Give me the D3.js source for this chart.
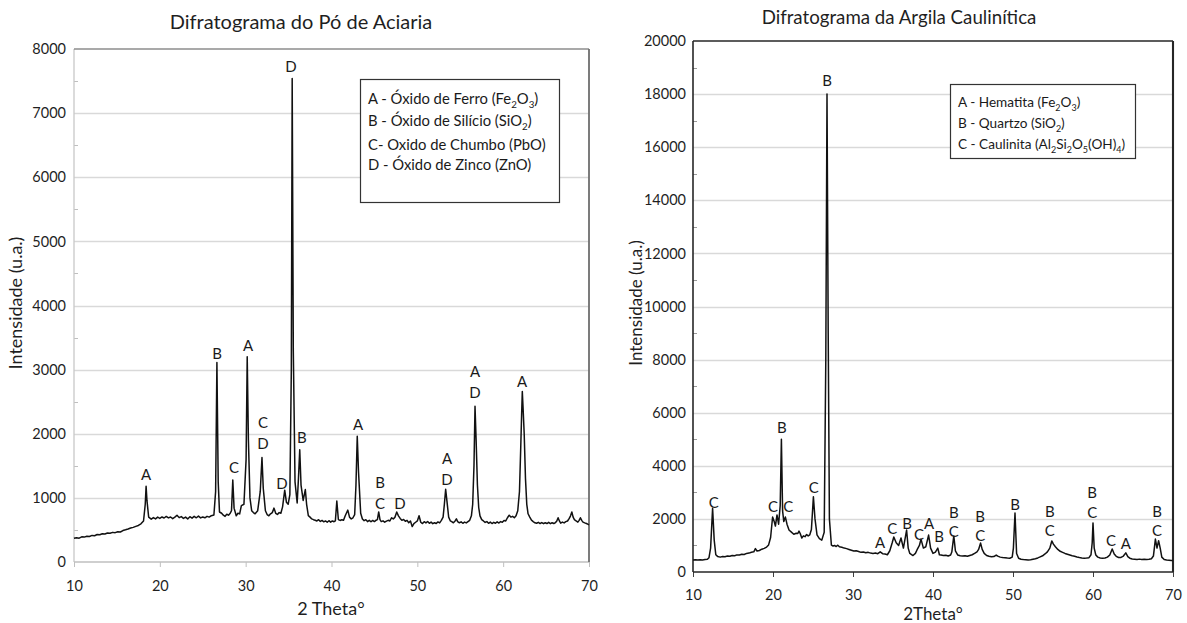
<!DOCTYPE html>
<html><head><meta charset="utf-8">
<script src="https://cdn.jsdelivr.net/npm/d3@7"></script>
<style>
body{margin:0;background:#fff}
text{font-family:Lato,"Open Sans","Liberation Sans",sans-serif}
</style>
</head><body>
<svg id="c" width="1187" height="623"></svg>
<script>
// ---------- Left: Difratograma do Pó de Aciaria  [2θ, intensidade] ----------
const acPattern = [[10,370],[10.3,378],[10.6,372],[10.9,392],[11.2,388],[11.5,402],[11.8,398],[12.1,415],[12.4,410],[12.7,428],[13.0,424],[13.3,440],[13.6,436],[13.9,452],[14.2,448],[14.5,462],[14.8,458],[15.1,472],[15.4,468],[15.7,490],[16.0,502],[16.3,515],[16.6,530],[16.9,540],[17.2,556],[17.5,570],[17.8,595],[18.1,640],[18.3,900],[18.4,1180],[18.5,960],[18.7,700],[19.0,668],[19.25,692],[19.5,672],[19.75,700],[20.0,680],[20.25,702],[20.5,686],[20.75,710],[21.0,688],[21.25,702],[21.5,676],[21.75,700],[22.0,730],[22.25,692],[22.5,708],[22.75,680],[23.0,700],[23.25,672],[23.5,706],[23.75,684],[24.0,712],[24.25,690],[24.5,716],[24.75,688],[25.0,702],[25.25,690],[25.5,712],[25.75,700],[26.0,722],[26.3,732],[26.5,1100],[26.65,3110],[26.8,1250],[26.95,780],[27.2,760],[27.4,730],[27.6,712],[27.8,745],[28.0,730],[28.2,760],[28.35,800],[28.5,1280],[28.65,840],[28.9,722],[29.1,760],[29.3,750],[29.5,880],[29.8,900],[30.05,1600],[30.18,3200],[30.32,1900],[30.5,1000],[30.7,800],[30.9,770],[31.1,752],[31.4,800],[31.7,1100],[31.9,1630],[32.05,1150],[32.3,800],[32.5,740],[32.7,720],[32.9,752],[33.1,770],[33.3,840],[33.5,760],[33.7,742],[33.9,770],[34.1,760],[34.3,860],[34.55,1120],[34.75,930],[34.95,900],[35.15,1050],[35.32,3000],[35.42,7540],[35.55,3300],[35.75,1250],[36.0,920],[36.15,1300],[36.3,1750],[36.45,1200],[36.7,960],[36.95,1130],[37.1,900],[37.3,722],[37.5,700],[37.7,672],[37.9,660],[38.1,652],[38.3,640],[38.5,660],[38.7,632],[38.9,648],[39.1,626],[39.3,640],[39.5,620],[39.7,644],[39.9,622],[40.1,640],[40.3,628],[40.45,640],[40.62,950],[40.8,662],[41.0,648],[41.2,660],[41.4,650],[41.6,722],[41.9,810],[42.1,700],[42.3,672],[42.5,690],[42.7,740],[42.85,1200],[43.0,1960],[43.15,1400],[43.4,760],[43.6,670],[43.8,645],[44.0,660],[44.2,630],[44.4,650],[44.6,628],[44.8,648],[45.0,630],[45.2,652],[45.35,660],[45.5,780],[45.65,660],[45.8,630],[46.0,642],[46.2,620],[46.4,638],[46.6,650],[46.8,640],[47.0,690],[47.2,672],[47.4,700],[47.6,780],[47.8,720],[48.0,680],[48.2,650],[48.4,664],[48.6,636],[48.8,650],[49.0,612],[49.2,640],[49.4,552],[49.6,600],[49.8,620],[50.0,640],[50.2,722],[50.4,620],[50.6,600],[50.8,628],[51.0,610],[51.2,632],[51.4,604],[51.6,622],[51.8,598],[52.0,612],[52.2,600],[52.4,625],[52.6,610],[52.8,650],[53.0,700],[53.15,900],[53.3,1134],[53.45,950],[53.65,700],[53.85,640],[54.0,628],[54.2,612],[54.4,640],[54.55,672],[54.7,630],[54.9,612],[55.1,626],[55.3,604],[55.5,622],[55.7,610],[55.9,630],[56.1,650],[56.3,720],[56.45,900],[56.6,1500],[56.72,2430],[56.85,1900],[57.0,1200],[57.15,850],[57.3,720],[57.5,660],[57.7,640],[57.9,618],[58.1,630],[58.3,604],[58.5,622],[58.7,600],[58.9,618],[59.1,604],[59.3,626],[59.5,608],[59.7,630],[59.9,620],[60.1,648],[60.3,640],[60.5,690],[60.7,730],[60.9,700],[61.1,712],[61.3,690],[61.5,722],[61.7,800],[61.9,1100],[62.05,1800],[62.15,2300],[62.23,2660],[62.32,2400],[62.45,2000],[62.6,1300],[62.75,900],[62.9,752],[63.1,700],[63.3,652],[63.5,630],[63.7,612],[63.9,604],[64.1,618],[64.3,600],[64.5,615],[64.7,598],[64.9,612],[65.1,600],[65.3,618],[65.5,598],[65.7,612],[65.9,600],[66.1,615],[66.25,640],[66.4,690],[66.55,640],[66.7,606],[66.9,622],[67.1,610],[67.3,630],[67.5,640],[67.7,680],[67.85,720],[68.0,780],[68.15,700],[68.3,662],[68.5,640],[68.7,622],[68.85,650],[69.0,690],[69.15,650],[69.3,622],[69.5,610],[69.7,600],[69.85,590],[70,580]];
const acLabelText  = ["A","B","C","A","C","D","D","D","B","A","B","C","D","A","D","A","D","A"];
const acLabelTheta = [18.39,26.66,28.64,30.27,32.02,32.02,34.23,35.28,36.56,43.09,45.65,45.65,47.98,53.46,53.46,56.72,56.72,62.2];
const acLabelY     = [1372,3259,1481,3384,2183,1856,1232,7735,1949,2152,1248,920,920,1622,1294,2979,2651,2823];
const acYTicks = [0,1000,2000,3000,4000,5000,6000,7000,8000];
const acLegend = [
  ["A - Óxido de Ferro (Fe", "_2", "O", "_3", ")"],
  ["B - Óxido de Silício (SiO", "_2", ")"],
  ["C- Oxido de Chumbo (PbO)"],
  ["D - Óxido de Zinco (ZnO)"]
];

// ---------- Right: Difratograma da Argila Caulinítica  [2θ, intensidade] ----------
const kaPattern = [[10,450],[10.3,458],[10.6,448],[10.9,462],[11.2,455],[11.5,470],[11.8,480],[12.0,540],[12.2,900],[12.45,2400],[12.65,1200],[12.85,650],[13.1,580],[13.4,560],[13.7,585],[14.0,575],[14.3,600],[14.6,590],[14.9,620],[15.2,610],[15.5,645],[15.8,640],[16.1,668],[16.4,660],[16.7,700],[17.0,712],[17.3,745],[17.6,760],[17.8,880],[18.0,790],[18.3,810],[18.6,860],[18.9,890],[19.2,940],[19.45,1020],[19.7,1300],[19.95,2070],[20.15,1900],[20.3,1730],[20.5,2150],[20.7,1800],[20.9,2500],[21.05,5000],[21.2,2300],[21.35,1900],[21.55,2070],[21.75,1800],[22.0,1580],[22.3,1500],[22.6,1420],[22.9,1460],[23.1,1450],[23.25,1540],[23.4,1450],[23.6,1280],[23.8,1360],[24.0,1330],[24.2,1410],[24.4,1360],[24.6,1400],[24.8,1600],[25.05,2830],[25.25,2000],[25.5,1400],[25.8,1260],[26.1,1200],[26.4,1500],[26.6,8000],[26.75,18000],[26.9,9000],[27.05,2000],[27.3,1010],[27.5,980],[27.7,1000],[27.9,960],[28.1,1010],[28.3,950],[28.6,930],[28.9,900],[29.2,880],[29.5,850],[29.8,820],[30.1,790],[30.4,800],[30.7,770],[31.0,740],[31.3,752],[31.6,725],[31.9,740],[32.2,712],[32.5,700],[32.8,712],[33.1,690],[33.4,760],[33.7,690],[34.0,680],[34.3,650],[34.6,800],[34.9,1100],[35.1,1320],[35.4,1100],[35.7,1000],[36.0,1280],[36.3,900],[36.7,1580],[36.9,900],[37.1,700],[37.5,620],[37.8,700],[38.0,830],[38.3,1000],[38.5,1240],[38.8,900],[39.1,950],[39.45,1390],[39.7,900],[40.0,700],[40.3,750],[40.6,900],[40.8,650],[41.0,640],[41.3,620],[41.6,632],[41.9,605],[42.2,640],[42.35,750],[42.6,1360],[42.8,800],[43.1,640],[43.4,612],[43.7,600],[44.0,615],[44.3,590],[44.6,620],[44.9,650],[45.2,700],[45.5,760],[45.7,850],[45.95,1090],[46.15,850],[46.4,700],[46.7,620],[47.0,590],[47.3,575],[47.6,580],[47.9,640],[48.1,600],[48.4,560],[48.7,545],[49.0,540],[49.3,528],[49.6,520],[49.9,560],[50.05,900],[50.25,2220],[50.45,700],[50.7,520],[51.0,480],[51.3,470],[51.6,462],[51.9,455],[52.2,460],[52.5,480],[52.8,500],[53.1,530],[53.4,570],[53.7,610],[54.0,680],[54.3,760],[54.6,900],[54.85,1170],[55.05,1050],[55.3,950],[55.6,850],[55.9,780],[56.2,740],[56.5,700],[56.8,670],[57.1,640],[57.4,610],[57.7,590],[58.0,565],[58.3,545],[58.6,530],[58.9,520],[59.2,525],[59.5,540],[59.75,650],[59.9,1100],[60.0,1850],[60.15,900],[60.35,640],[60.6,560],[60.9,530],[61.2,520],[61.5,525],[61.8,560],[62.1,640],[62.4,870],[62.65,680],[62.9,590],[63.2,545],[63.5,550],[63.8,600],[64.1,720],[64.35,580],[64.6,520],[64.9,490],[65.2,480],[65.5,472],[65.8,485],[66.1,470],[66.4,480],[66.7,468],[67.0,480],[67.3,500],[67.55,600],[67.8,1240],[68.0,900],[68.2,1180],[68.4,900],[68.6,560],[68.9,470],[69.2,450],[69.5,445],[69.8,432],[70,430]];
const kaLabelText  = ["C","C","B","C","C","B","A","C","B","C","A","B","B","C","B","C","B","B","C","B","C","C","A","B","C"];
const kaLabelTheta = [12.6,20.0,21.1,21.9,25.1,26.75,33.4,34.9,36.75,38.25,39.5,40.75,42.6,42.6,45.9,45.9,50.25,54.6,54.6,59.9,59.9,62.25,64.1,68.0,68.0];
const kaLabelY     = [2637,2486,5461,2486,3201,18531,1130,1657,1846,1431,1846,1356,2260,1544,2109,1394,2561,2298,1582,3013,2260,1205,1092,2298,1582];
const kaYTicks = [0,2000,4000,6000,8000,10000,12000,14000,16000,18000,20000];
const kaLegend = [
  ["A - Hematita (Fe", "_2", "O", "_3", ")"],
  ["B - Quartzo (SiO", "_2", ")"],
  ["C - Caulinita (Al", "_2", "Si", "_2", "O", "_5", "(OH)", "_4", ")"]
];
const xTicks = [10,20,30,40,50,60,70];

const svg = d3.select("#c");

function drawChart(o) {
  const g = svg.append("g");
  const x = d3.scaleLinear().domain([10, 70]).range([o.x0, o.x1]);
  const y = d3.scaleLinear().domain([0, o.ymax]).range([o.y1, o.y0]);

  g.selectAll(".grid").data(o.yTicks.filter(v => v > 0 && v < o.ymax)).enter()
    .append("line").attr("x1", o.x0).attr("x2", o.x1)
    .attr("y1", d => Math.round(y(d)) + 0.5).attr("y2", d => Math.round(y(d)) + 0.5)
    .attr("stroke", "#d9d9d9").attr("stroke-width", 1.5);

  g.selectAll(".minor").data(o.minor).enter().append("line")
    .attr("x1", o.x0).attr("x2", o.x0 + 4)
    .attr("y1", d => Math.round(y(d)) + 0.5).attr("y2", d => Math.round(y(d)) + 0.5)
    .attr("stroke", o.minorColor).attr("stroke-width", 1);

  const ya = g.append("g").attr("transform", `translate(${o.x0},0)`)
    .call(d3.axisLeft(y).tickValues(o.yTicks).tickSize(0).tickPadding(o.yPad).tickFormat(d3.format("d")));
  ya.select(".domain").remove();
  ya.selectAll("text").attr("font-size", 14.5).attr("fill", "#1f1f1f")
    .style("font-family", "Lato, sans-serif");

  const xa = g.append("g").attr("transform", `translate(0,${o.y1})`)
    .call(d3.axisBottom(x).tickValues(xTicks).tickSize(5).tickPadding(o.xPad).tickFormat(d3.format("d")));
  xa.select(".domain").remove();
  xa.selectAll("line").attr("stroke", o.tickColor);
  xa.selectAll("text").attr("font-size", 14.5).attr("fill", "#1f1f1f")
    .style("font-family", "Lato, sans-serif");

  g.append("line").attr("x1", o.x0).attr("x2", o.x0).attr("y1", o.y0).attr("y2", o.y1)
    .attr("stroke", o.leftColor).attr("stroke-width", o.frameW);
  g.append("line").attr("x1", o.x0).attr("x2", o.x1).attr("y1", o.y1).attr("y2", o.y1)
    .attr("stroke", o.bottomColor).attr("stroke-width", o.frameW);
  g.append("line").attr("x1", o.x0).attr("x2", o.x1).attr("y1", o.y0).attr("y2", o.y0)
    .attr("stroke", o.topColor).attr("stroke-width", o.frameW);
  g.append("line").attr("x1", o.x1).attr("x2", o.x1).attr("y1", o.y0).attr("y2", o.y1)
    .attr("stroke", o.rightColor).attr("stroke-width", o.frameW + 0.5);

  g.append("path").datum(o.pattern)
    .attr("d", d3.line().x(d => x(d[0])).y(d => y(d[1])))
    .attr("fill", "none").attr("stroke", "#111").attr("stroke-width", 1.5)
    .attr("stroke-linejoin", "round");

  g.selectAll(".pl").data(o.labText).enter().append("text")
    .attr("x", (d, i) => x(o.labTheta[i])).attr("y", (d, i) => y(o.labY[i]))
    .attr("text-anchor", "middle").attr("dominant-baseline", "central")
    .attr("font-size", 15).attr("fill", "#1a1a1a").text(d => d);

  g.append("text").attr("x", o.titleX).attr("y", o.titleY).attr("text-anchor", "middle")
    .attr("font-size", o.titleSize).attr("fill", "#1f1f1f").text(o.title);
  g.append("text").attr("x", o.xTitleX).attr("y", o.xTitleY).attr("text-anchor", "middle")
    .attr("font-size", o.axisTitleSize).attr("fill", "#1f1f1f").text(o.xTitle);
  g.append("text").attr("transform", `translate(${o.yTitleX},${o.yTitleY}) rotate(-90)`)
    .attr("text-anchor", "middle").attr("font-size", o.axisTitleSize).attr("fill", "#1f1f1f").text("Intensidade (u.a.)");

  const L = o.legend;
  g.append("rect").attr("x", L.x + 0.5).attr("y", L.y + 0.5).attr("width", L.w).attr("height", L.h)
    .attr("fill", "#fff").attr("stroke", "#333").attr("stroke-width", 1.2);
  o.legendItems.forEach((segs, i) => {
    const t = g.append("text").attr("x", L.tx).attr("y", L.baselines[i])
      .attr("font-size", L.fs).attr("fill", "#1a1a1a");
    let shifted = false;
    segs.forEach(s => {
      if (s.startsWith("_")) {
        t.append("tspan").attr("dy", shifted ? 0 : 3.5).attr("font-size", L.fs * 0.66).text(s.slice(1));
        shifted = true;
      } else {
        t.append("tspan").attr("dy", shifted ? -3.5 : 0).text(s);
        shifted = false;
      }
    });
  });
}

drawChart({
  x0: 74, x1: 589, y0: 49, y1: 562, ymax: 8000, yTicks: acYTicks,
  minor: [500,1500,2500,3500,4500,5500,6500,7500], minorColor: "#bfbfbf",
  yPad: 8, xPad: 14, tickColor: "#bfbfbf", frameW: 1.3,
  leftColor: "#c8c8c8", bottomColor: "#bfbfbf", topColor: "#8c8c8c", rightColor: "#6e6e6e",
  pattern: acPattern,
  labText: acLabelText, labTheta: acLabelTheta, labY: acLabelY,
  title: "Difratograma do Pó de Aciaria", titleX: 301, titleY: 29, titleSize: 20,
  axisTitleSize: 18,
  xTitle: "2 Theta°", xTitleX: 331, xTitleY: 615, yTitleX: 22, yTitleY: 303,
  legend: {x: 360, y: 79, w: 199, h: 123, tx: 368, fs: 14.8, baselines: [104, 126, 150, 170]},
  legendItems: acLegend
});

drawChart({
  x0: 693, x1: 1173, y0: 41, y1: 572, ymax: 20000, yTicks: kaYTicks,
  minor: [1000,3000,5000,7000,9000,11000,13000,15000,17000,19000], minorColor: "#9a9a9a",
  yPad: 7, xPad: 13, tickColor: "#404040", frameW: 1.6,
  leftColor: "#262626", bottomColor: "#262626", topColor: "#262626", rightColor: "#262626",
  pattern: kaPattern,
  labText: kaLabelText, labTheta: kaLabelTheta, labY: kaLabelY,
  title: "Difratograma da Argila Caulinítica", titleX: 899, titleY: 24, titleSize: 18.7,
  axisTitleSize: 17,
  xTitle: "2Theta°", xTitleX: 933, xTitleY: 620, yTitleX: 642, yTitleY: 303,
  legend: {x: 950, y: 84, w: 185, h: 74, tx: 958, fs: 13.6, baselines: [107, 128, 149]},
  legendItems: kaLegend
});
</script>
</body></html>
